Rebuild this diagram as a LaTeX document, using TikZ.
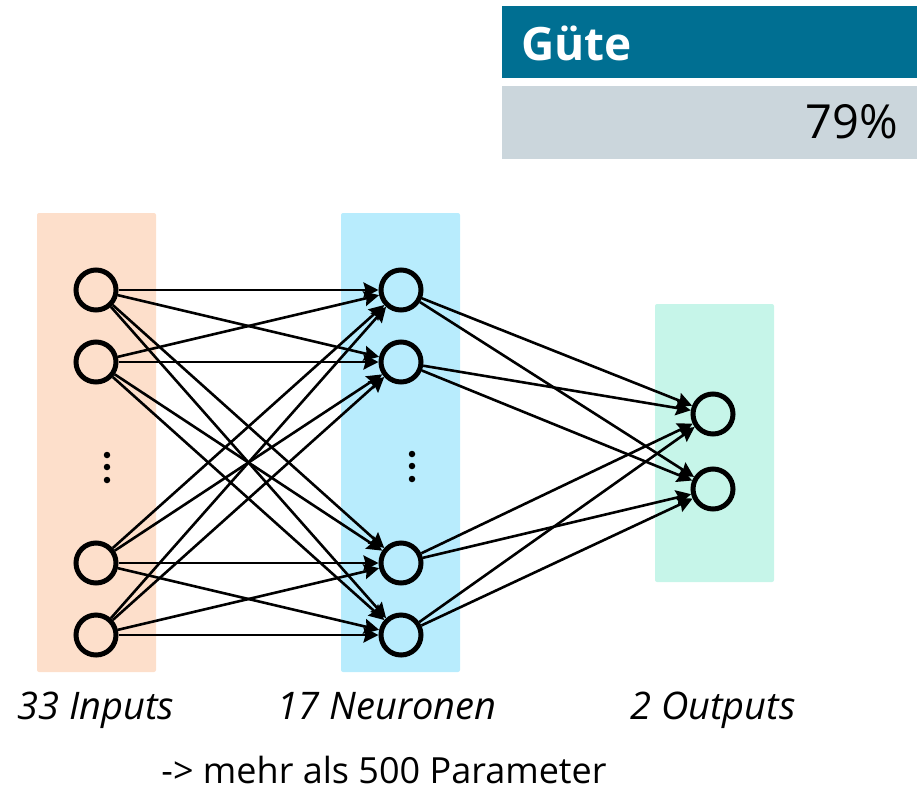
\documentclass[tikz,border=0pt]{standalone}
\usepackage{fontspec}
\setmainfont{Open Sans}
\usetikzlibrary{arrows.meta}
\definecolor{headblue}{RGB}{0,111,146}
\definecolor{headgrey}{RGB}{203,214,220}
\definecolor{layerin}{RGB}{253,223,203}
\definecolor{layerhid}{RGB}{184,236,253}
\definecolor{layerout}{RGB}{198,245,233}
\tikzset{
  neuron/.style={circle, draw=black, line width=5pt, minimum size=40pt, inner sep=0pt},
  layer/.style={rounded corners=2pt, draw=none},
  conn/.style={line width=2.6pt, -{Stealth[length=15pt,width=15pt,inset=2pt]}},
  vdots/.style={circle, fill=black, minimum size=6.5pt, inner sep=0pt},
  label/.style={font=\fontsize{38}{44}\selectfont\itshape, anchor=base, inner sep=0pt},
}
\begin{document}
\begin{tikzpicture}[x=1pt,y=-1pt]
\useasboundingbox (0,0) rectangle (917,790);
% score panel
\fill[headblue] (502,6) rectangle (917,78);
\fill[headgrey] (502,86) rectangle (917,159);
\node[anchor=base west, text=white, font=\fontsize{46}{52}\selectfont\bfseries, inner sep=0pt] (title) at (521,60) {Güte};
\node[anchor=base east, font=\fontsize{47}{52}\selectfont, inner sep=0pt] (score) at (898,138) {79\%};
% layer backgrounds
\fill[layer, layerin] (37,213) rectangle (156,672);
\fill[layer, layerhid] (341,213) rectangle (460,672);
\fill[layer, layerout] (655,304) rectangle (774,582);
% neurons
\foreach \i/\y in {1/290,2/362,3/563,4/635}{
  \node[neuron] (in\i) at (96,\y) {};
  \node[neuron] (hd\i) at (401,\y) {};
}
\node[neuron] (out1) at (713,414) {};
\node[neuron] (out2) at (713,489) {};
% ellipsis dots
\foreach \y [count=\k] in {455,467,480}{
  \node[vdots] (din\k) at (107,\y) {};
  \node[vdots] (dhd\k) at (412,\y-1) {};
}
% connections
\foreach \i in {1,...,4}{
  \foreach \j in {1,...,4}{
    \draw[conn] (in\i) -- (hd\j);
  }
  \foreach \j in {1,2}{
    \draw[conn] (hd\i) -- (out\j);
  }
}
% captions
\node[label] (capin) at (96,719) {33 Inputs};
\node[label] (caphd) at (387,719) {17 Neuronen};
\node[label] (capout) at (713,719) {2 Outputs};
\node[anchor=base, inner sep=0pt, font=\fontsize{36}{40}\selectfont] (param) at (384,783) {-> mehr als 500 Parameter};
\end{tikzpicture}
\end{document}
